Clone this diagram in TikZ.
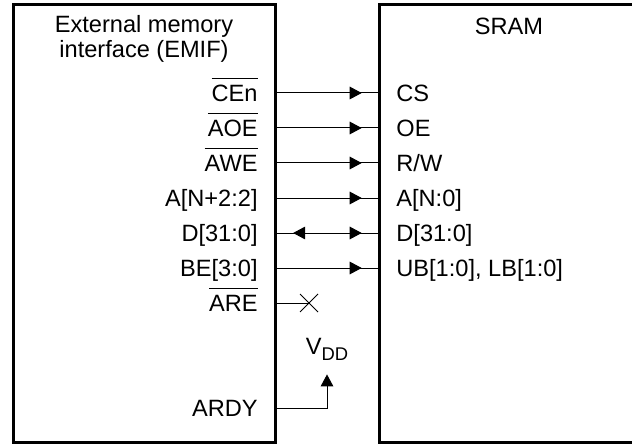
\documentclass[tikz,border=0pt]{standalone}
\usepackage{fontspec}
\setmainfont{Liberation Sans}
\usetikzlibrary{arrows.meta, positioning, shapes.misc}
\newcommand{\lowact}[1]{\setbox0\hbox{#1}\rlap{\rule[11pt]{\wd0}{0.5pt}}\box0}
\newcommand{\vdd}{V\raisebox{-3pt}{\fontsize{9.2}{10}\selectfont DD}}

\begin{document}
\begin{tikzpicture}[
    x=0.5pt, y=-0.5pt,
    font=\fontsize{11.8}{12.5}\selectfont,
    >={Triangle[length=6pt,width=6.3pt]},
    chip/.style={draw, line width=1.5pt, minimum height=218.5pt, inner sep=0pt},
    pin/.style={inner sep=0pt, text height=8.45pt, text depth=0pt},
    wire/.style={line width=0.5pt},
    fwd/.style={wire, postaction={draw, ->, shorten >=8.3pt}},
    bidir/.style={wire, postaction={draw, <->, shorten >=8.3pt, shorten <=8.3pt}},
]
    \useasboundingbox (0,0) rectangle (632,444);
    \clip (0,0) rectangle (632,444);

    % EMIF block
    \node[chip, minimum width=131pt] (emif) at (144,223.5) {};
    \node[anchor=north, inner sep=0pt, align=center] (emiftitle) at (144,15) {External memory\\interface (EMIF)};

    % SRAM block
    \node[chip, minimum width=150pt, right=50.9pt of emif] (sram) {};
    \node[anchor=base] (sramtitle) at (509,35) {SRAM};

    % EMIF pins
    \node[pin, anchor=east] (cen) at (258,93) {\lowact{CEn}};
    \node[pin, anchor=east] (aoe) at (258,128) {\lowact{AOE}};
    \node[pin, anchor=east] (awe) at (258,163) {\lowact{AWE}};
    \node[pin, anchor=east] (addr) at (258,198) {A[N+2:2]};
    \node[pin, anchor=east] (data) at (258,233) {D[31:0]};
    \node[pin, anchor=east] (be) at (258,268) {BE[3:0]};
    \node[pin, anchor=east] (are) at (258,303) {\lowact{ARE}};
    \node[pin, anchor=east] (ardy) at (258,408) {ARDY};

    % SRAM pins
    \node[pin, anchor=west] (cs) at (396,93) {CS};
    \node[pin, anchor=west] (oe) at (396,128) {OE};
    \node[pin, anchor=west] (rw) at (396,163) {R/W};
    \node[pin, anchor=west] (saddr) at (396,198) {A[N:0]};
    \node[pin, anchor=west] (sdata) at (396,233) {D[31:0]};
    \node[pin, anchor=west] (ublb) at (396,268) {UB[1:0], LB[1:0]};

    % Pull-up and no connect
    \node[anchor=base, inner sep=0pt] (vdd) at (327,354) {\vdd};
    \node[cross out, draw, wire, minimum size=8.5pt, inner sep=0pt] (nc) at (309,303) {};

    % Wires
    \draw[fwd] (cen -| emif.east) -- (cs -| sram.west);
    \draw[fwd] (aoe -| emif.east) -- (oe -| sram.west);
    \draw[fwd] (awe -| emif.east) -- (rw -| sram.west);
    \draw[fwd] (addr -| emif.east) -- (saddr -| sram.west);
    \draw[bidir] (data -| emif.east) -- (sdata -| sram.west);
    \draw[fwd] (be -| emif.east) -- (ublb -| sram.west);
    \draw[wire] (are -| emif.east) -- (nc.center);
    \draw[wire, ->, shorten >=7pt] (ardy -| emif.east) -| (vdd.south);

\end{tikzpicture}
\end{document}
